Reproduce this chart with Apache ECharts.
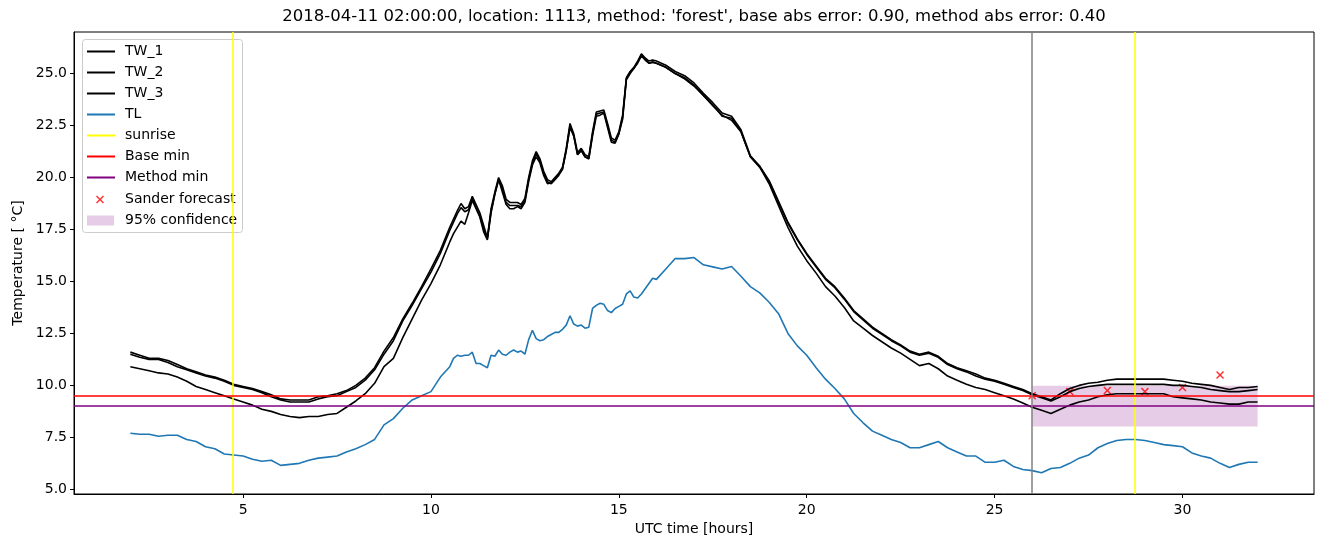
<!DOCTYPE html>
<html>
<head>
<meta charset="utf-8">
<script src="https://cdn.jsdelivr.net/npm/echarts@6/dist/echarts.min.js"></script>
<style>
  html, body { margin: 0; padding: 0; background: #fff; }
  #container { width: 1324px; height: 547px; }
</style>
</head>
<body>
<div id="container"></div>
<script>
// UTC hours of the samples
var hours = [
  2, 2.25, 2.5, 2.75, 3, 3.25, 3.5, 3.75, 4, 4.25, 4.5, 4.75, 5, 5.25, 5.5, 5.75, 6, 6.25,
  6.5, 6.75, 7, 7.25, 7.5, 7.75, 8, 8.25, 8.5, 8.75, 9, 9.25, 9.5, 9.75, 10, 10.25, 10.5,
  10.6, 10.7, 10.8, 10.9,
  11.0, 11.1, 11.2, 11.3, 11.4, 11.5, 11.6, 11.7, 11.8, 11.9,
  12.0, 12.1, 12.2, 12.3, 12.4, 12.5, 12.6, 12.7, 12.8, 12.9,
  13.0, 13.1, 13.2, 13.3, 13.4, 13.5, 13.6, 13.7, 13.8, 13.9,
  14.0, 14.1, 14.2, 14.3, 14.4, 14.5, 14.6, 14.7, 14.8, 14.9,
  15.0, 15.1, 15.2, 15.3, 15.4, 15.5, 15.6, 15.7, 15.8, 15.9,
  16.0,
  16.25, 16.5, 16.75, 17, 17.25, 17.5, 17.75, 18, 18.25, 18.5, 18.75, 19,
  19.25, 19.5, 19.75, 20, 20.25, 20.5, 20.75, 21, 21.25, 21.5, 21.75, 22,
  22.25, 22.5, 22.75, 23, 23.25, 23.5, 23.75, 24, 24.25, 24.5, 24.75, 25,
  25.25, 25.5, 25.75, 26, 26.25, 26.5, 26.75, 27, 27.25, 27.5, 27.75, 28,
  28.25, 28.5, 28.75, 29, 29.25, 29.5, 29.75, 30, 30.25, 30.5, 30.75, 31,
  31.25, 31.5, 31.75, 32
];

var tw1 = [
  11.6, 11.45, 11.3, 11.3, 11.2, 11.0, 10.8, 10.65, 10.5, 10.4, 10.25, 10.05, 9.95, 9.85, 9.7, 9.55, 9.35, 9.3,
  9.3, 9.3, 9.45, 9.5, 9.6, 9.75, 10.0, 10.35, 10.85, 11.65, 12.3, 13.2, 13.95, 14.75, 15.6, 16.5, 17.6,
  18.0, 18.4, 18.75, 18.5,
  18.6, 19.1, 18.7, 18.3, 17.7, 17.1, 18.5, 19.3, 20.0, 19.6,
  18.95, 18.8, 18.8, 18.8, 18.7, 19.0, 20.0, 20.8, 21.25, 20.9,
  20.3, 19.9, 19.8, 20.0, 20.2, 20.5, 21.4, 22.6, 22.1, 21.2,
  21.4, 21.1, 21.0, 22.2, 23.15, 23.2, 23.25, 22.6, 21.9, 21.8,
  22.2, 23.0, 24.8, 25.1, 25.3, 25.6, 25.95, 25.75, 25.6, 25.65,
  25.6,
  25.4, 25.1, 24.9, 24.55, 24.05, 23.6, 23.1, 22.95, 22.3, 21.05, 20.55, 19.85,
  18.85, 17.85, 17.05, 16.35, 15.75, 15.15, 14.75, 14.2, 13.6, 13.2, 12.8, 12.5,
  12.2, 11.95, 11.65, 11.5, 11.6, 11.4, 11.05, 10.85, 10.7, 10.55, 10.35, 10.25,
  10.1, 9.95, 9.8, 9.6, 9.45, 9.3, 9.6, 9.85, 10.0, 10.1, 10.15, 10.25,
  10.3, 10.3, 10.3, 10.3, 10.3, 10.3, 10.25, 10.2, 10.1, 10.05, 10.0, 9.9,
  9.8, 9.9, 9.9, 9.95
];

var tw2 = [
  11.5, 11.35, 11.25, 11.25, 11.1, 10.9, 10.75, 10.6, 10.45, 10.35, 10.2, 10.0, 9.9, 9.8, 9.65, 9.45, 9.3, 9.2,
  9.2, 9.2, 9.35, 9.45, 9.5, 9.7, 9.9, 10.25, 10.75, 11.5, 12.15, 13.1, 13.85, 14.65, 15.45, 16.35, 17.45,
  17.85, 18.25, 18.55, 18.35,
  18.45, 19.0, 18.55, 18.15, 17.55, 17.05, 18.4, 19.2, 19.9, 19.45,
  18.8, 18.65, 18.65, 18.65, 18.6, 18.9, 19.9, 20.7, 21.15, 20.8,
  20.2, 19.8, 19.7, 19.9, 20.1, 20.4, 21.3, 22.5, 22.0, 21.1,
  21.3, 21.0, 20.9, 22.1, 23.05, 23.1, 23.15, 22.5, 21.8, 21.7,
  22.1, 22.9, 24.75, 25.05, 25.25, 25.55, 25.9, 25.7, 25.5, 25.55,
  25.5,
  25.3, 25.0, 24.8, 24.45, 23.95, 23.5, 22.95, 22.85, 22.2, 21.0, 20.5, 19.8,
  18.8, 17.8, 17.0, 16.3, 15.7, 15.1, 14.7, 14.15, 13.55, 13.15, 12.75, 12.45,
  12.15, 11.9, 11.6, 11.45, 11.55, 11.35, 11.0, 10.8, 10.65, 10.45, 10.3, 10.2,
  10.05, 9.9, 9.75, 9.55, 9.4, 9.25, 9.45, 9.7, 9.85, 9.95, 10.0, 10.05,
  10.05, 10.05, 10.05, 10.05, 10.05, 10.05, 10.0, 10.0, 9.95, 9.9, 9.8, 9.75,
  9.7, 9.7, 9.75, 9.8
];

var tw3 = [
  10.9, 10.8, 10.7, 10.6, 10.55, 10.4, 10.2, 9.95, 9.8, 9.65, 9.5, 9.35, 9.2, 9.05, 8.85, 8.75, 8.6, 8.5,
  8.45, 8.5, 8.5, 8.6, 8.65, 8.95, 9.25, 9.6, 10.1, 10.9, 11.3, 12.3, 13.2, 14.1, 14.9, 15.8, 16.9,
  17.3, 17.6, 17.9, 17.75,
  18.3, 18.9, 18.5, 18.1, 17.4, 17.0, 18.3, 19.2, 19.9, 19.3,
  18.7, 18.5, 18.5, 18.6, 18.5, 18.8, 19.8, 20.6, 21.0, 20.7,
  20.1, 19.7, 19.75, 19.95, 20.15, 20.4, 21.3, 22.4, 22.0, 21.1,
  21.3, 21.0, 20.9, 22.0, 22.95, 23.0, 23.1, 22.4, 21.7, 21.65,
  22.1, 22.8, 24.7, 25.0, 25.25, 25.5, 25.85, 25.65, 25.5, 25.55,
  25.5,
  25.3, 25.0, 24.75, 24.4, 23.95, 23.45, 23.0, 22.75, 22.2, 21.0, 20.5, 19.7,
  18.65, 17.6, 16.7, 16.0, 15.4, 14.75, 14.3, 13.75, 13.1, 12.75, 12.4, 12.1,
  11.8, 11.55, 11.25, 10.95, 11.05, 10.8, 10.45, 10.25, 10.05, 9.9, 9.8, 9.65,
  9.5, 9.35, 9.15, 8.95, 8.8, 8.65, 8.85, 9.05, 9.2, 9.3, 9.45, 9.55,
  9.6, 9.6, 9.6, 9.6, 9.6, 9.6, 9.45, 9.4, 9.35, 9.3, 9.2, 9.15,
  9.1, 9.1, 9.2, 9.2
];

var tl = [
  7.7, 7.65, 7.65, 7.55, 7.6, 7.6, 7.4, 7.3, 7.05, 6.95, 6.7, 6.65, 6.6, 6.45, 6.35, 6.4, 6.15, 6.2,
  6.25, 6.4, 6.5, 6.55, 6.6, 6.8, 6.95, 7.15, 7.4, 8.1, 8.4, 8.9, 9.3, 9.5, 9.7, 10.4, 10.9,
  11.3, 11.45, 11.4, 11.45,
  11.45, 11.6, 11.05, 11.05, 10.95, 10.85, 11.45, 11.4, 11.7, 11.5,
  11.45, 11.6, 11.7, 11.6, 11.65, 11.5, 12.2, 12.65, 12.25, 12.15,
  12.2, 12.35, 12.45, 12.55, 12.55, 12.7, 12.9, 13.35, 12.95, 12.85,
  12.9, 12.75, 12.8, 13.7, 13.85, 13.95, 13.9, 13.6, 13.5, 13.7,
  13.8, 13.9, 14.4, 14.55, 14.25, 14.2, 14.4, 14.65, 14.9, 15.15,
  15.1,
  15.6, 16.1, 16.1, 16.15, 15.8, 15.7, 15.6, 15.72, 15.25, 14.75, 14.45, 14.0,
  13.45, 12.5, 11.9, 11.45, 10.85, 10.3, 9.85, 9.35, 8.65, 8.2, 7.8, 7.6,
  7.4, 7.25, 7.0, 7.0, 7.15, 7.3, 7.0, 6.8, 6.6, 6.6, 6.3, 6.3,
  6.4, 6.1, 5.95, 5.9, 5.8, 6.0, 6.05, 6.25, 6.5, 6.65, 7.0, 7.2,
  7.35, 7.4, 7.4, 7.35, 7.25, 7.15, 7.1, 7.05, 6.75, 6.6, 6.5, 6.25,
  6.05, 6.2, 6.3, 6.3
];

var sunrise = [4.72, 28.72];
var nowHour = 26;
var baseMin = 9.5;
var methodMin = 9.0;
var forecastHours = [26, 27, 28, 29, 30, 31];
var forecastValues = [9.5, 9.7, 9.75, 9.7, 9.9, 10.5];
var confHours = [26, 32];
var confRange = [8.02, 9.98];

var xTicks = [5, 10, 15, 20, 25, 30];
var yTicks = [5, 7.5, 10, 12.5, 15, 17.5, 20, 22.5, 25];

function pairs(xs, ys) {
  return xs.map(function (x, i) { return [x, ys[i]]; });
}

var dom = document.getElementById('container');
var myChart = echarts.init(dom);
var FONT = 'DejaVu Sans';
var xMark = 'path://M0,1.3 L1.3,0 L5,3.7 L8.7,0 L10,1.3 L6.3,5 L10,8.7 L8.7,10 L5,6.3 L1.3,10 L0,8.7 L3.7,5 Z';

function lineSeries(name, data, color) {
  return {
    name: name, type: 'line', data: pairs(hours, data),
    showSymbol: false, symbol: 'none', silent: true,
    itemStyle: { color: color },
    lineStyle: { color: color, width: 1.6 }
  };
}

function markSeries(name, color, marks) {
  return {
    name: name, type: 'line', data: [], silent: true,
    itemStyle: { color: color },
    lineStyle: { color: color, width: 1.5 },
    markLine: {
      silent: true, symbol: 'none', animation: false,
      label: { show: false },
      lineStyle: { color: color, width: 1.5, type: 'solid' },
      data: marks
    }
  };
}

var option = {
  animation: false,
  textStyle: { fontFamily: FONT },
  title: {
    text: "2018-04-11 02:00:00, location: 1113, method: 'forest', base abs error: 0.90, method abs error: 0.40",
    left: 694, top: 8, padding: 0, textAlign: 'center',
    textStyle: { fontFamily: FONT, fontSize: 16.5, fontWeight: 'normal', color: '#000' }
  },
  grid: {
    left: 74, right: 10, top: 32, bottom: 53,
    show: true, borderColor: '#000', borderWidth: 1, backgroundColor: 'transparent'
  },
  legend: [{
    orient: 'vertical', left: 87, top: 41, itemGap: 0, padding: 0,
    itemWidth: 28, itemHeight: 2, icon: 'rect',
    selectedMode: false,
    itemStyle: { borderWidth: 0 },
    textStyle: { fontFamily: FONT, fontSize: 14, color: '#000', lineHeight: 21, padding: [0, 0, 0, 5] },
    data: ['TW_1', 'TW_2', 'TW_3', 'TL', 'sunrise', 'Base min', 'Method min']
  }, {
    orient: 'vertical', left: 96, top: 189, itemGap: 0, padding: 0,
    itemWidth: 8, itemHeight: 8, icon: xMark,
    selectedMode: false,
    itemStyle: { borderWidth: 0 },
    textStyle: { fontFamily: FONT, fontSize: 14, color: '#000', lineHeight: 21, padding: [0, 0, 0, 16] },
    data: ['Sander forecast']
  }, {
    orient: 'vertical', left: 87, top: 210, itemGap: 0, padding: 0,
    itemWidth: 27, itemHeight: 10, icon: 'rect',
    selectedMode: false,
    itemStyle: { borderWidth: 0 },
    textStyle: { fontFamily: FONT, fontSize: 14, color: '#000', lineHeight: 21, padding: [0, 0, 0, 6] },
    data: ['95% confidence']
  }],
  graphic: [{
    type: 'rect', z: 3, silent: true,
    shape: { x: 82.5, y: 39.5, width: 160, height: 193, r: 3 },
    style: { fill: 'rgba(255,255,255,0.8)', stroke: '#cccccc', lineWidth: 1 }
  }],
  xAxis: {
    type: 'value', min: 0.5, max: 33.5,
    name: 'UTC time [hours]', nameLocation: 'middle', nameGap: 28,
    nameTextStyle: { fontFamily: FONT, fontSize: 14, color: '#000' },
    axisLine: { show: true, onZero: false, lineStyle: { color: '#000', width: 1 } },
    axisTick: { show: true, length: 4, customValues: xTicks, lineStyle: { color: '#000' } },
    axisLabel: { customValues: xTicks, margin: 9, fontFamily: FONT, fontSize: 14, color: '#000' },
    splitLine: { show: false }
  },
  yAxis: {
    type: 'value', min: 4.775, max: 27.0,
    name: 'Temperature [ °C]', nameLocation: 'middle', nameGap: 48,
    nameTextStyle: { fontFamily: FONT, fontSize: 14, color: '#000' },
    axisLine: { show: true, onZero: false, lineStyle: { color: '#000', width: 1 } },
    axisTick: { show: true, length: 4, customValues: yTicks, lineStyle: { color: '#000' } },
    axisLabel: {
      customValues: yTicks, margin: 7, fontFamily: FONT, fontSize: 14, color: '#000',
      formatter: function (v) { return v.toFixed(1); }
    },
    splitLine: { show: false }
  },
  series: [
    lineSeries('TW_1', tw1, '#000000'),
    lineSeries('TW_2', tw2, '#000000'),
    lineSeries('TW_3', tw3, '#000000'),
    lineSeries('TL', tl, '#1f77b4'),
    markSeries('sunrise', '#ffff00', sunrise.map(function (h) { return { xAxis: h }; })),
    markSeries('Base min', '#ff0000', [{ yAxis: baseMin }]),
    markSeries('Method min', '#800080', [{ yAxis: methodMin }]),
    markSeries('now', '#808080', [{ xAxis: nowHour }]),
    {
      name: 'Sander forecast', type: 'scatter', silent: true,
      symbol: xMark, symbolSize: 8,
      itemStyle: { color: '#ff0000' },
      data: pairs(forecastHours, forecastValues)
    },
    {
      name: '95% confidence', type: 'line', data: [], silent: true,
      itemStyle: { color: 'rgba(128,0,128,0.2)' },
      markArea: {
        silent: true,
        itemStyle: { color: 'rgba(128,0,128,0.2)' },
        data: [[{ xAxis: confHours[0], yAxis: confRange[0] }, { xAxis: confHours[1], yAxis: confRange[1] }]]
      }
    }
  ]
};

myChart.setOption(option);
window.onresize = myChart.resize;
</script>
</body>
</html>
